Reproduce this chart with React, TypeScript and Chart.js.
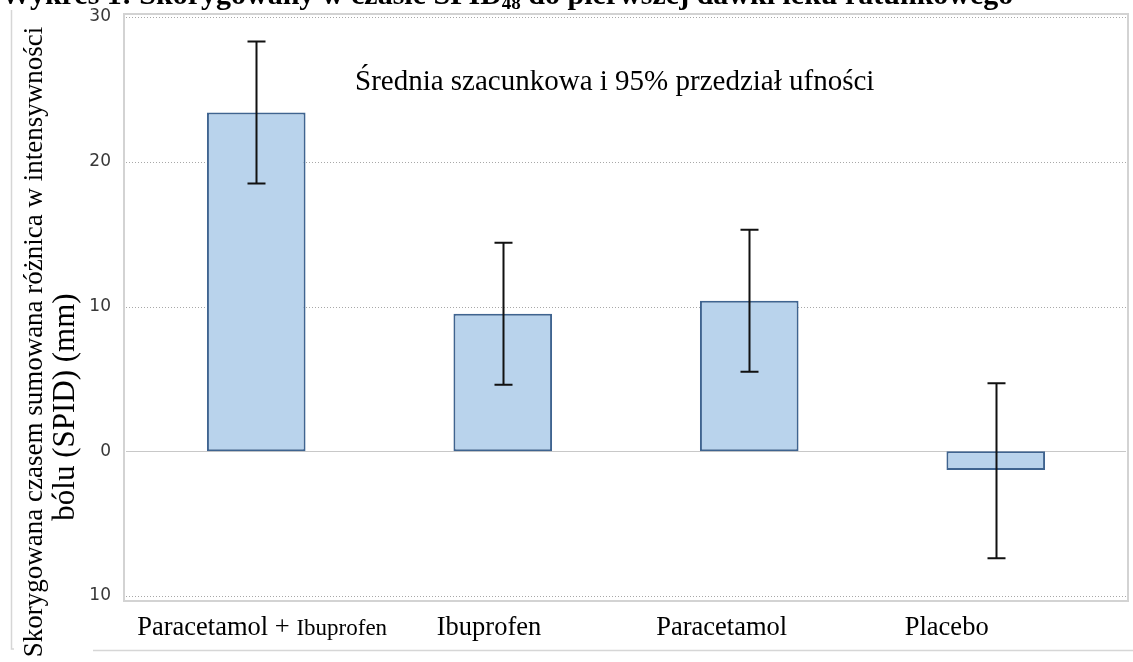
import React, { useEffect, useRef } from "react";
import { Chart, registerables } from "chart.js";

Chart.register(...registerables);

// ---- data ----
const categories = ["Paracetamol + Ibuprofen", "Ibuprofen", "Paracetamol", "Placebo"];
const means = [23.4, 9.5, 10.4, -1.3];
const ciLow = [18.5, 4.6, 5.5, -7.4];
const ciHigh = [28.3, 14.4, 15.3, 4.7];
const yTickValues = [-10, 0, 10, 20, 30];
const yTickLabels = ["10", "0", "10", "20", "30"];
const titleMain = "Wykres 1: Skorygowany w czasie SPID";
const titleSub = "48";
const titleRest = " do pierwszej dawki leku ratunkowego";
const annotation = "Średnia szacunkowa i 95% przedział ufności";
const yTitleLine1 = "Skorygowana czasem sumowana różnica w intensywności";
const yTitleLine2 = "bólu (SPID) (mm)";

const SERIF = "'Liberation Serif', 'Times New Roman', serif";

const decorPlugin = {
  id: "decor",
  beforeDatasetsDraw(chart: any) {
    const { ctx, chartArea, scales } = chart;
    const y = scales.y;
    const left = chartArea.left - 9;
    const right = chartArea.right + 9;
    ctx.save();
    // outer frame fragments
    ctx.strokeStyle = "#d6d6d6";
    ctx.lineWidth = 1.5;
    ctx.beginPath();
    ctx.moveTo(11.5, 10);
    ctx.lineTo(11.5, 649);
    ctx.lineTo(14, 649);
    ctx.moveTo(93, 650.5);
    ctx.lineTo(1133, 650.5);
    ctx.stroke();
    // plot frame
    const top = y.getPixelForValue(30) - 3;
    const bottom = y.getPixelForValue(-10) + 5;
    ctx.strokeStyle = "#d3d3d3";
    ctx.lineWidth = 2;
    ctx.strokeRect(left, top, right - left, bottom - top);
    // grid lines
    yTickValues.forEach((v) => {
      const py = Math.round(y.getPixelForValue(v)) + 0.5;
      ctx.beginPath();
      if (v === 0) {
        ctx.setLineDash([]);
        ctx.strokeStyle = "#c8c8c8";
      } else {
        ctx.setLineDash([1, 2]);
        ctx.strokeStyle = "#a8a8a8";
      }
      ctx.lineWidth = 1;
      ctx.moveTo(left + 2, py);
      ctx.lineTo(right - 2, py);
      ctx.stroke();
    });
    ctx.restore();
  },
  afterDatasetsDraw(chart: any) {
    const { ctx, scales } = chart;
    const x = scales.x;
    const y = scales.y;
    ctx.save();
    ctx.strokeStyle = "#111111";
    ctx.lineWidth = 2;
    categories.forEach((_, i) => {
      const px = Math.round(x.getPixelForValue(i)) + 0.5;
      const yTop = y.getPixelForValue(ciHigh[i]);
      const yBot = y.getPixelForValue(ciLow[i]);
      ctx.beginPath();
      ctx.moveTo(px, yTop);
      ctx.lineTo(px, yBot);
      ctx.moveTo(px - 9, yTop);
      ctx.lineTo(px + 9, yTop);
      ctx.moveTo(px - 9, yBot);
      ctx.lineTo(px + 9, yBot);
      ctx.stroke();
    });
    ctx.restore();
  },
  afterDraw(chart: any) {
    const { ctx, scales } = chart;
    const x = scales.x;
    ctx.save();
    ctx.fillStyle = "#000";
    ctx.textBaseline = "alphabetic";
    ctx.textAlign = "left";
    // title (cut at top)
    ctx.font = `bold 30px ${SERIF}`;
    let tx = 1;
    ctx.fillText(titleMain, tx, 4);
    tx += ctx.measureText(titleMain).width;
    ctx.font = `bold 19px ${SERIF}`;
    ctx.fillText(titleSub, tx, 9);
    tx += ctx.measureText(titleSub).width;
    ctx.font = `bold 30px ${SERIF}`;
    ctx.fillText(titleRest, tx, 4);

    // annotation
    ctx.font = `29px ${SERIF}`;
    ctx.fillText(annotation, 355, 90);

    // x labels
    const shift = [-119, -66, -93, -91];
    categories.forEach((c, i) => {
      const lx = x.getPixelForValue(i) + shift[i];
      if (i === 0) {
        const a = "Paracetamol + ";
        const b = "Ibuprofen";
        ctx.font = `26.5px ${SERIF}`;
        ctx.fillText(a, lx, 635);
        const w = ctx.measureText(a).width;
        ctx.font = `23px ${SERIF}`;
        ctx.fillText(b, lx + w, 635);
      } else {
        ctx.font = `26.5px ${SERIF}`;
        ctx.fillText(c, lx, 635);
      }
    });

    // y axis title
    ctx.textAlign = "center";
    ctx.textBaseline = "middle";
    ctx.font = `27px ${SERIF}`;
    ctx.save();
    ctx.translate(35, 342);
    ctx.rotate(-Math.PI / 2);
    ctx.fillText(yTitleLine1, 0, 0);
    ctx.restore();
    ctx.font = `31px ${SERIF}`;
    ctx.save();
    ctx.translate(66, 407);
    ctx.rotate(-Math.PI / 2);
    ctx.fillText(yTitleLine2, 0, 0);
    ctx.restore();
    ctx.restore();
  },
};

export default function App() {
  const ref = useRef<HTMLCanvasElement | null>(null);
  useEffect(() => {
    if (!ref.current) return;
    const chart = new Chart(ref.current, {
      type: "bar",
      data: {
        labels: categories,
        datasets: [
          {
            data: means,
            backgroundColor: "#b9d3ec",
            borderColor: "#3f6490",
            borderWidth: 2,
            borderSkipped: false,
            barPercentage: 0.4,
            categoryPercentage: 1,
          },
        ],
      },
      options: {
        animation: false,
        responsive: true,
        maintainAspectRatio: false,
        layout: { padding: { left: 0, right: 14, top: 17, bottom: 66 } },
        plugins: { legend: { display: false }, tooltip: { enabled: false } },
        scales: {
          x: { display: false, offset: true },
          y: {
            min: -10,
            max: 30,
            afterFit: (s: any) => {
              s.width = 133;
              s.paddingTop = 10;
              s.paddingBottom = 10;
            },
            afterBuildTicks: (s: any) => {
              s.ticks = yTickValues.map((v) => ({ value: v }));
            },
            ticks: {
              padding: 22,
              color: "#383838",
              font: { family: "'DejaVu Sans', Verdana, sans-serif", size: 17 },
              callback: (v: any) => {
                const idx = yTickValues.indexOf(Number(v));
                return idx >= 0 ? yTickLabels[idx] : "";
              },
            },
            grid: { display: false, drawTicks: false },
            border: { display: false },
          },
        },
      },
      plugins: [decorPlugin],
    });
    return () => chart.destroy();
  }, []);
  return (
    <div style={{ position: "absolute", left: 0, top: 0, width: 1133, height: 662, background: "#fff" }}>
      <canvas ref={ref} />
    </div>
  );
}
